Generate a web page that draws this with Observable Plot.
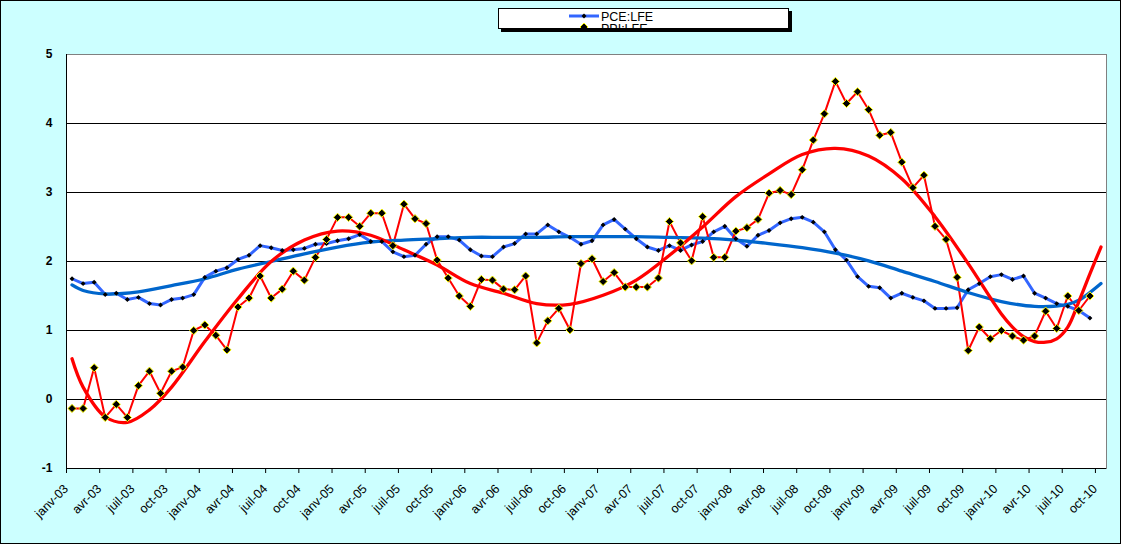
<!DOCTYPE html>
<html>
<head>
<meta charset="utf-8">
<script src="https://cdn.jsdelivr.net/npm/d3@7"></script>
<script src="https://cdn.jsdelivr.net/npm/@observablehq/plot@0.6"></script>
<style>
  html, body { margin: 0; padding: 0; background: #ccffff; }
  #wrap { position: relative; width: 1121px; height: 544px; background: #ccffff; overflow: hidden; font-family: "Liberation Sans", Arial, sans-serif; }
  #border { position: absolute; left: 0; top: 0; width: 1121px; height: 544px; box-sizing: border-box; border: 1px solid #000; pointer-events: none; }
  #legend { position: absolute; left: 498px; top: 8px; width: 291px; height: 21px; box-sizing: border-box; border: 1px solid #000; background: #fff; box-shadow: 3px 3px 0 #000; overflow: hidden; }
  #legend svg { position: absolute; left: 0; top: 0; }
  #chart svg { display: block; }
</style>
</head>
<body>
<div id="wrap">
  <div id="chart"></div>
  <div id="legend"></div>
  <div id="border"></div>
</div>
<script>
// ---- data (monthly, janv-03 .. sept-10) ----
const pceLFE = [1.75,1.68,1.70,1.52,1.54,1.45,1.48,1.39,1.37,1.45,1.47,1.52,
  1.77,1.86,1.91,2.03,2.09,2.23,2.20,2.16,2.17,2.19,2.25,2.26,
  2.30,2.33,2.39,2.29,2.29,2.14,2.07,2.09,2.25,2.36,2.36,2.31,
  2.17,2.08,2.07,2.21,2.26,2.40,2.40,2.53,2.43,2.35,2.25,2.30,
  2.53,2.61,2.47,2.33,2.21,2.16,2.23,2.16,2.24,2.29,2.43,2.51,
  2.33,2.22,2.38,2.45,2.56,2.62,2.64,2.57,2.43,2.17,2.02,1.78,
  1.64,1.62,1.47,1.54,1.48,1.43,1.32,1.32,1.33,1.59,1.68,1.78,
  1.81,1.74,1.79,1.54,1.47,1.39,1.35,1.29,1.18];
const ppiLFE = [-0.13,-0.13,0.46,-0.26,-0.07,-0.26,0.20,0.41,0.09,0.41,0.47,1.00,
  1.08,0.93,0.72,1.34,1.47,1.79,1.47,1.60,1.86,1.73,2.06,2.32,
  2.64,2.64,2.51,2.70,2.70,2.23,2.83,2.62,2.55,2.02,1.76,1.50,
  1.35,1.74,1.73,1.60,1.59,1.79,0.82,1.14,1.32,1.01,1.97,2.04,
  1.71,1.84,1.63,1.63,1.63,1.76,2.58,2.27,2.01,2.65,2.06,2.06,
  2.44,2.49,2.61,2.99,3.03,2.97,3.33,3.76,4.14,4.61,4.29,4.46,
  4.20,3.83,3.87,3.44,3.07,3.25,2.51,2.32,1.77,0.71,1.05,0.88,
  1.00,0.92,0.86,0.92,1.28,1.03,1.50,1.29,1.50];

// trend lines (polynomial trendlines), month number -> value
const pceTrendMonth = [1,2,4,7,10,13,16,19,22,25,28,31,34,37,40,43,46,49,52,55,58,61,64,67,70,73,76,79,82,85,88,91,92,93,94];
const pceTrendValue = [1.66,1.58,1.53,1.56,1.65,1.75,1.89,2.00,2.11,2.21,2.28,2.31,2.33,2.35,2.35,2.35,2.36,2.36,2.36,2.35,2.34,2.31,2.26,2.20,2.12,2.01,1.86,1.71,1.55,1.42,1.35,1.38,1.44,1.55,1.68];
const ppiTrendMonth = [1,2,4,6,8,10,13,16,19,22,25,28,31,34,37,40,43,46,49,52,55,58,61,64,67,70,73,76,79,82,85,86,87,88,89,90,91,92,93,94];
const ppiTrendValue = [0.59,0.18,-0.25,-0.33,-0.15,0.18,0.84,1.46,2.00,2.31,2.44,2.38,2.17,1.95,1.68,1.54,1.39,1.38,1.51,1.73,2.09,2.50,2.94,3.27,3.55,3.64,3.53,3.20,2.65,1.97,1.24,1.05,0.91,0.84,0.83,0.88,1.05,1.42,1.82,2.21];

const monthNames = ["janv","avr","juil","oct"];
const years = ["03","04","05","06","07","08","09","10"];
const tickLabels = years.flatMap(y => monthNames.map(m => m + "-" + y)); // 32 labels, every 3 months
const yTicks = [-1,0,1,2,3,4,5];
const gridValues = [0,1,2,3,4];

// ---- build tables ----
const pce = pceLFE.map((v, i) => ({m: i + 1, v}));
const ppi = ppiLFE.map((v, i) => ({m: i + 1, v}));
const pceT = pceTrendMonth.map((m, i) => ({m, v: pceTrendValue[i]}));
const ppiT = ppiTrendMonth.map((m, i) => ({m, v: ppiTrendValue[i]}));
const labelRows = tickLabels.map((t, i) => ({i: i * 3, t}));

const FONT = '"Liberation Sans", Arial, sans-serif';
const mx = d => d.m - 0.5; // centre of month slot

const chart = Plot.plot({
  width: 1121,
  height: 544,
  marginLeft: 66,
  marginRight: 15,
  marginTop: 54,
  marginBottom: 76,
  style: {background: "transparent", fontFamily: FONT, overflow: "visible"},
  x: {domain: [0, 94], axis: null, label: null},
  y: {domain: [-1, 5], axis: null, label: null},
  marks: [
    Plot.frame({fill: "#ffffff", stroke: "#808080"}),
    Plot.ruleY(gridValues, {stroke: "#000", strokeWidth: 1}),
    Plot.ruleX([0], {stroke: "#000", strokeWidth: 1}),
    Plot.ruleY([-1], {stroke: "#000", strokeWidth: 1}),
    Plot.axisY({ticks: yTicks, label: null, tickSize: 5, tickPadding: 9, tickFormat: d => String(d), fontSize: 12, fontWeight: "bold", fill: "#000", stroke: null}),
    Plot.axisX({ticks: d3.range(0, 94, 3), label: null, tickSize: 5, tickFormat: () => "", stroke: "#000"}),
    Plot.text(labelRows, {x: d => d.i + 0.5, text: "t", frameAnchor: "bottom", rotate: -45, textAnchor: "end", dx: -3, dy: 21, fontSize: 12.5, fill: "#000"}),
    // raw series lines
    Plot.line(pce, {x: mx, y: "v", stroke: "#3366ff", strokeWidth: 3}),
    Plot.line(ppi, {x: mx, y: "v", stroke: "#ff0000", strokeWidth: 2}),
    // trend lines
    Plot.line(pceT, {x: mx, y: "v", stroke: "#0066cc", strokeWidth: 3.3, curve: "catmull-rom"}),
    Plot.line(ppiT, {x: mx, y: "v", stroke: "#ff0000", strokeWidth: 3.3, curve: "catmull-rom"}),
    // markers
    Plot.dot(pce, {x: mx, y: "v", symbol: "diamond2", r: 2.2, fill: "#000", stroke: "none"}),
    Plot.dot(ppi, {x: mx, y: "v", symbol: "diamond2", r: 3.7, fill: "#000", stroke: "#ffff00", strokeWidth: 1})
  ]
});
document.getElementById("chart").appendChild(chart);

// ---- legend (partially clipped, as in the original) ----
const lg = d3.select("#legend").append("svg").attr("width", 289).attr("height", 40);
lg.append("line").attr("x1", 70).attr("x2", 100).attr("y1", 7).attr("y2", 7).attr("stroke", "#3366ff").attr("stroke-width", 3);
lg.append("path").attr("d", d3.symbol(d3.symbolDiamond2, 16)()).attr("transform", "translate(85,7)").attr("fill", "#000");
lg.append("text").attr("x", 102).attr("y", 12).attr("font-family", FONT).attr("font-size", 12.5).text("PCE:LFE");
lg.append("path").attr("d", d3.symbol(d3.symbolDiamond2, 40)()).attr("transform", "translate(85,18)").attr("fill", "#000").attr("stroke", "#ffff00");
lg.append("text").attr("x", 102).attr("y", 24).attr("font-family", FONT).attr("font-size", 12.5).text("PPI:LFE");
</script>
</body>
</html>
